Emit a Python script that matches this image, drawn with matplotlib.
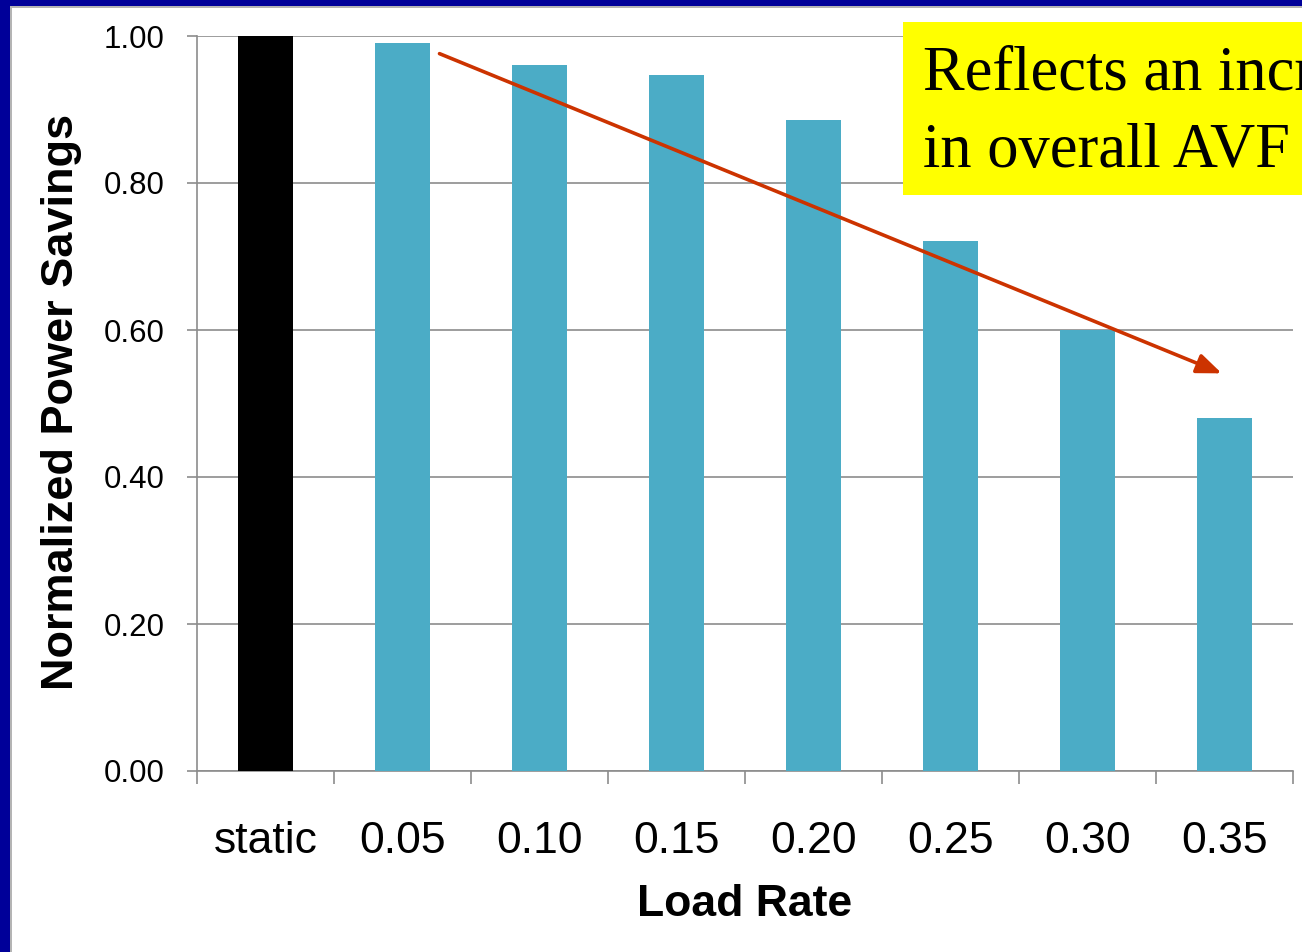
import matplotlib
matplotlib.use("Agg")
import matplotlib.pyplot as plt
from matplotlib.patches import Rectangle

# Data
categories = ["static", "0.05", "0.10", "0.15", "0.20", "0.25", "0.30", "0.35"]
power_savings = [1.00, 0.99, 0.96, 0.947, 0.886, 0.721, 0.600, 0.480]
bar_colors = ["#000000"] + ["#4BACC6"] * 7
y_ticks = [0.0, 0.2, 0.4, 0.6, 0.8, 1.0]
y_tick_labels = ["0.00", "0.20", "0.40", "0.60", "0.80", "1.00"]

callout_lines = ["Reflects an increase", "in overall AVF"]
trend_start = (1.27, 0.976)
trend_end = (6.98, 0.541)

W, H = 1302, 952
fig = plt.figure(figsize=(W / 100, H / 100), dpi=100)
fig.patch.set_facecolor("white")

ax = fig.add_axes([197 / W, 1 - 771 / H, (1293 - 197) / W, (771 - 36) / H])
x = list(range(len(categories)))
ax.bar(x, power_savings, width=0.4, color=bar_colors, zorder=3)

ax.set_xlim(-0.5, len(categories) - 0.5)
ax.set_ylim(0, 1.0)

grid_col = "#8C8C8C"
ax.set_yticks(y_ticks)
ax.set_yticklabels(y_tick_labels, fontsize=22.5, family="Liberation Sans")
ax.yaxis.grid(True, color=grid_col, linewidth=1.2, zorder=0)
ax.set_axisbelow(True)

ax.set_xticks(x)
ax.set_xticklabels(categories, fontsize=32, family="Liberation Sans")
ax.set_xticks([i - 0.5 for i in range(len(categories) + 1)], minor=True)
ax.tick_params(axis="x", which="major", length=0, pad=36)
ax.tick_params(axis="x", which="minor", length=9, width=1.2, color=grid_col, direction="out")
ax.tick_params(axis="y", which="major", length=7.2, width=1.2, color=grid_col, pad=16)

for side in ["top", "right"]:
    ax.spines[side].set_visible(False)
for side in ["left", "bottom"]:
    ax.spines[side].set_color(grid_col)
    ax.spines[side].set_linewidth(1.2)

fig.text(745 / W, 1 - 904 / H, "Load Rate", fontsize=32, fontweight="bold",
         family="Liberation Sans", ha="center", va="center")
fig.text(62 / W, 1 - 402 / H, "Normalized Power Savings", fontsize=32.5, fontweight="bold",
         family="Liberation Sans", ha="center", va="center", rotation=90)

# Trend arrow
ax.annotate("", xy=trend_end, xytext=trend_start,
            arrowprops=dict(arrowstyle="-|>,head_length=1.0,head_width=0.4",
                            mutation_scale=15, color="#CC3300", lw=2.6,
                            shrinkA=0, shrinkB=0),
            zorder=5)

# Yellow callout box
fig.patches.append(Rectangle((903 / W, 1 - 195 / H), (W - 903) / W, (195 - 22) / H,
                             transform=fig.transFigure, facecolor="#FFFF00",
                             edgecolor="none", zorder=10))
for line, base_y in zip(callout_lines, [90, 167]):
    fig.text(923 / W, 1 - base_y / H, line, fontsize=45,
             family="Liberation Serif", ha="left", va="baseline", zorder=11)

# Slide frame: blue band with a thin grey inner line
fig.patches.append(Rectangle((0, 0), 9.5 / W, 1, transform=fig.transFigure,
                             facecolor="#000099", edgecolor="none", zorder=20))
fig.patches.append(Rectangle((0, 1 - 5.5 / H), 1, 5.5 / H, transform=fig.transFigure,
                             facecolor="#000099", edgecolor="none", zorder=20))
fig.patches.append(Rectangle((9.5 / W, 0), 2 / W, 1 - 5.5 / H, transform=fig.transFigure,
                             facecolor="#B4B4B4", edgecolor="none", zorder=19))
fig.patches.append(Rectangle((9.5 / W, 1 - 7.5 / H), 1, 2 / H, transform=fig.transFigure,
                             facecolor="#B4B4B4", edgecolor="none", zorder=19))

fig.savefig("out.png", dpi=100)
